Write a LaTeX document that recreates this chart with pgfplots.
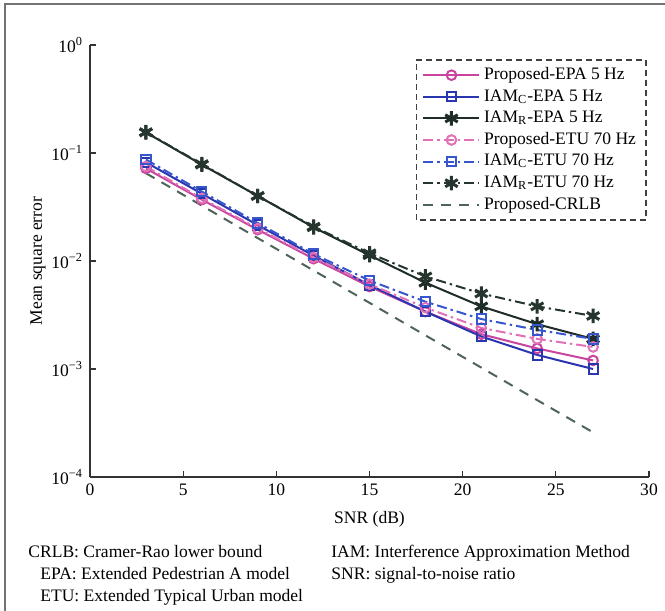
\documentclass[border=0pt]{standalone}
\usepackage{fontspec}
\setmainfont{Liberation Serif}
\usepackage{pgfplots}
\pgfplotsset{compat=1.18}
\definecolor{magSolid}{HTML}{C8449E}
\definecolor{magDash}{HTML}{E070B8}
\definecolor{bluSolid}{HTML}{2A36B0}
\definecolor{bluDash}{HTML}{3556CC}
\definecolor{blkSolid}{HTML}{1E2D28}
\definecolor{blkDash}{HTML}{26362F}
\definecolor{crlb}{HTML}{4E6459}
\begin{document}
\begin{tikzpicture}
\useasboundingbox (0bp,0bp) rectangle (332.5bp,305.5bp);
\draw[black!55, line width=0.8bp] (2.5bp,0bp) -- (2.5bp,303.5bp) -- (332.5bp,303.5bp);
\begin{axis}[
    at={(45bp,67bp)}, anchor=south west,
    scale only axis, width=279.5bp, height=216bp,
    ymode=log, xmin=0, xmax=30, ymin=1e-4, ymax=1,
    xtick={0,5,...,30},
    ytick={1e-4,1e-3,1e-2,1e-1,1},
    yticklabels={10\textsuperscript{−4},10\textsuperscript{−3},10\textsuperscript{−2},10\textsuperscript{−1},10\textsuperscript{0}},
    yminorticks=false,
    axis x line*=bottom, axis y line*=left,
    tick align=inside, major tick length=3bp,
    axis line style={black!80, line width=0.6bp},
    tick style={black!80, line width=0.6bp},
    /pgf/number format/assume math mode=true,
    font=\fontsize{8.8}{10}\selectfont,
    xlabel={SNR (dB)}, ylabel={Mean square error},
    xlabel style={at={(rel axis cs:0.5,0)}, anchor=center, yshift=-21bp},
    ylabel style={at={(rel axis cs:0,0.5)}, anchor=center, yshift=26bp},
    legend style={name=leg, draw=none, fill=white, at={(rel axis cs:1,1)}, anchor=north east,
        xshift=-1.5bp, yshift=-7.5bp, font=\fontsize{8.8}{10}\selectfont,
        nodes={inner ysep=1.3bp, inner xsep=1.8bp, text height=6.3bp, text depth=1.9bp}},
    legend cell align=left,
    legend image code/.code={\draw[line width=1bp, mark repeat=2,mark phase=2] plot coordinates {(0bp,0bp) (14bp,0bp) (28bp,0bp)};},
    every axis plot/.append style={line width=1bp},
]
\addplot[magSolid, mark=o, mark size=2.4bp, mark options={solid}] coordinates {
 (3,0.072) (6,0.037) (9,0.0195) (12,0.0105) (15,0.0058) (18,0.0034) (21,0.0021) (24,0.00155) (27,0.00120)};
\addlegendentry{Proposed-EPA 5 Hz}
\addplot[bluSolid, mark=square, mark size=2.3bp, mark options={solid}] coordinates {
 (3,0.082) (6,0.042) (9,0.0215) (12,0.0112) (15,0.0060) (18,0.0034) (21,0.0020) (24,0.00135) (27,0.00100)};
\addlegendentry{IAM\textsubscript{C}-EPA 5 Hz}
\addplot[blkSolid, mark=asterisk, mark size=3.6bp, mark options={solid, line width=1.5bp}] coordinates {
 (3,0.155) (6,0.078) (9,0.040) (12,0.0205) (15,0.0113) (18,0.0063) (21,0.0038) (24,0.0026) (27,0.0019)};
\addlegendentry{IAM\textsubscript{R}-EPA 5 Hz}
\addplot[magDash, dash pattern=on 5bp off 2bp on 1.2bp off 2bp, mark=o, mark size=2.4bp, mark options={solid}] coordinates {
 (3,0.075) (6,0.038) (9,0.020) (12,0.0108) (15,0.0061) (18,0.0037) (21,0.0024) (24,0.0019) (27,0.0016)};
\addlegendentry{Proposed-ETU 70 Hz}
\addplot[bluDash, dash pattern=on 5bp off 2bp on 1.2bp off 2bp, mark=square, mark size=2.3bp, mark options={solid}] coordinates {
 (3,0.087) (6,0.044) (9,0.0225) (12,0.0116) (15,0.0066) (18,0.0042) (21,0.0029) (24,0.0023) (27,0.0019)};
\addlegendentry{IAM\textsubscript{C}-ETU 70 Hz}
\addplot[blkDash, dash pattern=on 5bp off 2bp on 1.2bp off 2bp, mark=asterisk, mark size=3.6bp, mark options={solid, line width=1.5bp}] coordinates {
 (3,0.156) (6,0.079) (9,0.040) (12,0.0208) (15,0.0118) (18,0.0072) (21,0.0050) (24,0.0038) (27,0.0031)};
\addlegendentry{IAM\textsubscript{R}-ETU 70 Hz}
\addplot[crlb, dash pattern=on 5bp off 4bp, no marks] coordinates {
 (3,0.065) (6,0.0326) (9,0.0163) (12,0.00817) (15,0.00410) (18,0.00205) (21,0.00103) (24,0.000515) (27,0.000259)};
\addlegendentry{Proposed-CRLB}
\end{axis}
\draw[black!75, dash pattern=on 3bp off 2bp, line width=0.6bp] (leg.south west) rectangle (leg.north east);
\begin{scope}[every node/.style={anchor=base west, inner sep=0pt, font=\fontsize{8.8}{10}\selectfont}]
\node at (14bp,27bp) {CRLB: Cramer-Rao lower bound};
\node at (20bp,16bp) {EPA: Extended Pedestrian A model};
\node at (20bp,5bp) {ETU: Extended Typical Urban model};
\node at (165.5bp,27bp) {IAM: Interference Approximation Method};
\node at (165.5bp,16bp) {SNR: signal-to-noise ratio};
\end{scope}
\end{tikzpicture}
\end{document}
